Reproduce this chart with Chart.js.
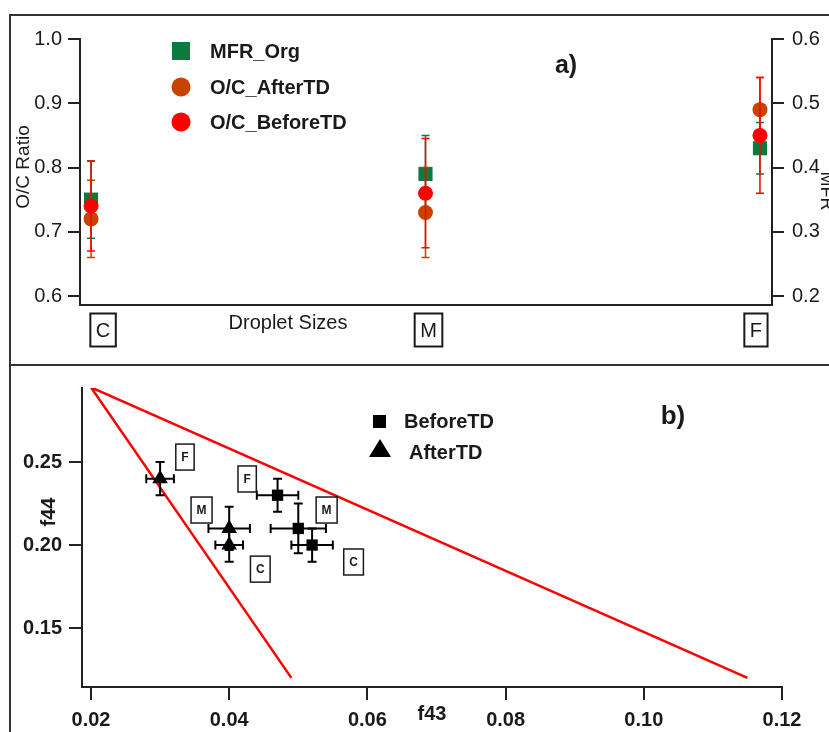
<!DOCTYPE html>
<html>
<head>
<meta charset="utf-8">
<script src="https://cdn.jsdelivr.net/npm/chart.js@4.4.1/dist/chart.umd.min.js"></script>
<style>
  html, body { margin: 0; padding: 0; background: #fff; }
  #page { position: relative; width: 829px; height: 732px; overflow: hidden; }
  .frame { position: absolute; background: #333; }
  canvas { position: absolute; left: 0; }
</style>
</head>
<body>
<div id="page">
  <div class="frame" style="left:9px;top:14px;width:820px;height:2px"></div>
  <div class="frame" style="left:9px;top:14px;width:2px;height:718px"></div>
  <div class="frame" style="left:9px;top:364px;width:820px;height:2px"></div>
  <canvas id="topChart" width="829" height="365" style="top:0"></canvas>
  <canvas id="bottomChart" width="829" height="367" style="top:365px"></canvas>
</div>
<script>
const FONT = "'Liberation Sans', Arial, sans-serif";

// panel a) O/C ratio and MFR per droplet size
const sizes = ["C", "M", "F"];
const sizePos = [0, 1, 2];
const mfrOrg = [0.35, 0.39, 0.43];
const mfrOrgErr = [0.06, 0.06, 0.04];
const ocAfterTD = [0.72, 0.73, 0.89];
const ocAfterTDErr = [0.06, 0.07, 0.05];
const ocBeforeTD = [0.74, 0.76, 0.85];
const ocBeforeTDErr = [0.07, 0.085, 0.09];
const sizeLabelShift = [0.036, 0.009, -0.012];
const ocTicks = [0.6, 0.7, 0.8, 0.9, 1.0];
const mfrTicks = [0.2, 0.3, 0.4, 0.5, 0.6];

// panel b) f44 vs f43 triangle plot (order C, M, F)
const f43Before = [0.052, 0.050, 0.047];
const f44Before = [0.200, 0.210, 0.230];
const f43BeforeErr = [0.003, 0.004, 0.003];
const f44BeforeErr = [0.010, 0.015, 0.010];
const f43After = [0.040, 0.040, 0.030];
const f44After = [0.200, 0.210, 0.240];
const f43AfterErr = [0.002, 0.003, 0.002];
const f44AfterErr = [0.010, 0.013, 0.010];
const triangleF43 = [0.049, 0.020, 0.115];
const triangleF44 = [0.120, 0.295, 0.120];
const boxLabels = ["F", "M", "C", "F", "M", "C"];
const boxF43 = [0.0336, 0.0360, 0.0445, 0.0426, 0.0541, 0.0580];
const boxF44 = [0.253, 0.2211, 0.1855, 0.2398, 0.2211, 0.1898];
const f43Ticks = [0.02, 0.04, 0.06, 0.08, 0.10, 0.12];
const f44Ticks = [0.15, 0.20, 0.25];

const GREEN = "#0b7a3f";
const ORANGE = "#c84200";
const RED = "#ff0000";
const INK = "#1a1a1a";

function points(xs, ys) {
  return xs.map((x, i) => ({ x, y: ys[i] }));
}

function text(ctx, s, x, y, font, align, rot) {
  ctx.save();
  ctx.font = font;
  ctx.fillStyle = INK;
  ctx.textAlign = align || "center";
  ctx.textBaseline = "middle";
  ctx.translate(x, y);
  if (rot) ctx.rotate(rot);
  ctx.fillText(s, 0, 0);
  ctx.restore();
}

function boxedText(ctx, s, cx, cy, font, h, lw) {
  ctx.save();
  ctx.font = font;
  const w = ctx.measureText(s).width + 11;
  ctx.strokeStyle = INK;
  ctx.lineWidth = lw;
  ctx.strokeRect(cx - w / 2, cy - h / 2, w, h);
  ctx.restore();
  text(ctx, s, cx, cy + 1, font);
}

// error bars drawn right after their own dataset
const errorBars = {
  id: "errorBars",
  afterDatasetDraw(chart, args) {
    const ds = chart.data.datasets[args.index];
    if (!ds.yErr && !ds.xErr) return;
    const xs = chart.scales[args.meta.xAxisID];
    const ys = chart.scales[args.meta.yAxisID];
    const ctx = chart.ctx;
    const cap = ds.capHalf || 4;
    ctx.save();
    ctx.strokeStyle = ds.errColor;
    ctx.lineWidth = ds.errWidth || 1.5;
    ds.data.forEach((p, i) => {
      const px = xs.getPixelForValue(p.x);
      const py = ys.getPixelForValue(p.y);
      ctx.beginPath();
      if (ds.yErr) {
        const y1 = ys.getPixelForValue(p.y - ds.yErr[i]);
        const y2 = ys.getPixelForValue(p.y + ds.yErr[i]);
        ctx.moveTo(px, y1); ctx.lineTo(px, y2);
        ctx.moveTo(px - cap, y1); ctx.lineTo(px + cap, y1);
        ctx.moveTo(px - cap, y2); ctx.lineTo(px + cap, y2);
      }
      if (ds.xErr) {
        const x1 = xs.getPixelForValue(p.x - ds.xErr[i]);
        const x2 = xs.getPixelForValue(p.x + ds.xErr[i]);
        ctx.moveTo(x1, py); ctx.lineTo(x2, py);
        ctx.moveTo(x1, py - cap); ctx.lineTo(x1, py + cap);
        ctx.moveTo(x2, py - cap); ctx.lineTo(x2, py + cap);
      }
      ctx.stroke();
    });
    ctx.restore();
  }
};

const panelA = {
  id: "panelA",
  afterDraw(chart) {
    const ctx = chart.ctx;
    const x = chart.scales.x;
    sizes.forEach((s, i) => {
      boxedText(ctx, s, x.getPixelForValue(sizePos[i] + sizeLabelShift[i]), 330, "20px " + FONT, 33, 2);
    });
    text(ctx, "Droplet Sizes", 288, 323, "20px " + FONT);
    text(ctx, "a)", 566, 66, "bold 25px " + FONT);
    text(ctx, "O/C Ratio", 24, 167, "19px " + FONT, "center", -Math.PI / 2);
    text(ctx, "MFR", 826, 191, "18px " + FONT, "center", Math.PI / 2);

    // legend
    chart.data.datasets.forEach((ds, i) => {
      const ly = [51, 87, 122][i];
      ctx.save();
      ctx.fillStyle = ds.backgroundColor;
      if (ds.pointStyle === "rect") {
        ctx.fillRect(172, ly - 9, 18, 18);
      } else {
        ctx.beginPath();
        ctx.arc(181, ly, 9.5, 0, Math.PI * 2);
        ctx.fill();
      }
      ctx.restore();
      text(ctx, ds.label, 210, ly + 1, "bold 20px " + FONT, "left");
    });
  }
};

const panelB = {
  id: "panelB",
  afterDraw(chart) {
    const ctx = chart.ctx;
    const x = chart.scales.x;
    const y = chart.scales.y;
    boxLabels.forEach((s, i) => {
      boxedText(ctx, s, x.getPixelForValue(boxF43[i]), y.getPixelForValue(boxF44[i]), "bold 12px " + FONT, 26, 1.5);
    });
    text(ctx, "b)", 673, 52, "bold 26px " + FONT);
    text(ctx, "f44", 49, 147, "bold 20px " + FONT, "center", -Math.PI / 2);

    ctx.save();
    ctx.fillStyle = "#000";
    ctx.fillRect(373, 50, 13, 13);
    ctx.beginPath();
    ctx.moveTo(380, 74);
    ctx.lineTo(391, 92);
    ctx.lineTo(369, 92);
    ctx.closePath();
    ctx.fill();
    ctx.restore();
    text(ctx, "BeforeTD", 404, 57, "bold 20px " + FONT, "left");
    text(ctx, "AfterTD", 409, 88, "bold 20px " + FONT, "left");
  }
};

function tickSetter(list) {
  return scale => { scale.ticks = list.map(v => ({ value: v })); };
}

const axisLine = { color: "#222", width: 2 };
const tickMarks = len => ({ drawOnChartArea: false, drawTicks: true, tickLength: len, color: "#222", lineWidth: 2 });

new Chart(document.getElementById("topChart"), {
  type: "scatter",
  data: {
    datasets: [
      {
        label: "MFR_Org",
        data: points(sizePos, mfrOrg),
        yAxisID: "y2",
        pointStyle: "rect",
        pointRadius: 10,
        backgroundColor: GREEN,
        borderWidth: 0,
        yErr: mfrOrgErr,
        errColor: GREEN,
        order: 3
      },
      {
        label: "O/C_AfterTD",
        data: points(sizePos, ocAfterTD),
        yAxisID: "y",
        pointStyle: "circle",
        pointRadius: 7.5,
        backgroundColor: ORANGE,
        borderWidth: 0,
        yErr: ocAfterTDErr,
        errColor: ORANGE,
        order: 2
      },
      {
        label: "O/C_BeforeTD",
        data: points(sizePos, ocBeforeTD),
        yAxisID: "y",
        pointStyle: "circle",
        pointRadius: 7.5,
        backgroundColor: RED,
        borderWidth: 0,
        yErr: ocBeforeTDErr,
        errColor: RED,
        order: 1
      }
    ]
  },
  options: {
    responsive: false,
    animation: false,
    events: [],
    layout: { padding: { left: 0, right: 0, top: 39, bottom: 60 } },
    plugins: { legend: { display: false }, tooltip: { enabled: false } },
    scales: {
      x: {
        type: "linear",
        min: -0.033,
        max: 2.036,
        ticks: { display: false },
        grid: { display: false },
        border: axisLine,
        afterFit: s => { s.height = 0; }
      },
      y: {
        position: "left",
        min: 0.586,
        max: 1.0,
        afterBuildTicks: tickSetter(ocTicks),
        ticks: { callback: v => v.toFixed(1), color: INK, padding: 6, font: { family: FONT, size: 20 } },
        grid: tickMarks(12),
        border: axisLine,
        afterFit: s => { s.width = 80; }
      },
      y2: {
        position: "right",
        min: 0.186,
        max: 0.6,
        afterBuildTicks: tickSetter(mfrTicks),
        ticks: { callback: v => v.toFixed(1), color: INK, padding: 8, font: { family: FONT, size: 20 } },
        grid: tickMarks(12),
        border: axisLine,
        afterFit: s => { s.width = 57; }
      }
    }
  },
  plugins: [errorBars, panelA]
});

new Chart(document.getElementById("bottomChart"), {
  type: "scatter",
  data: {
    datasets: [
      {
        label: "BeforeTD",
        data: points(f43Before, f44Before),
        pointStyle: "rect",
        pointRadius: 8,
        backgroundColor: "#000",
        borderWidth: 0,
        xErr: f43BeforeErr,
        yErr: f44BeforeErr,
        errColor: "#000",
        errWidth: 2,
        capHalf: 4.5,
        order: 1
      },
      {
        label: "AfterTD",
        data: points(f43After, f44After),
        pointStyle: "triangle",
        pointRadius: 9,
        backgroundColor: "#000",
        borderWidth: 0,
        xErr: f43AfterErr,
        yErr: f44AfterErr,
        errColor: "#000",
        errWidth: 2,
        capHalf: 4.5,
        order: 2
      },
      {
        label: "triangle",
        data: points(triangleF43, triangleF44),
        showLine: true,
        pointRadius: 0,
        borderColor: RED,
        borderWidth: 2.5,
        order: 3
      }
    ]
  },
  options: {
    responsive: false,
    animation: false,
    events: [],
    layout: { padding: { left: 0, right: 47, top: 23, bottom: 0 } },
    plugins: { legend: { display: false }, tooltip: { enabled: false } },
    scales: {
      x: {
        type: "linear",
        min: 0.0187,
        max: 0.12,
        afterBuildTicks: tickSetter(f43Ticks),
        ticks: { callback: v => v.toFixed(2), color: INK, padding: 8, maxRotation: 0, font: { family: FONT, size: 20, weight: "bold" } },
        grid: tickMarks(13),
        border: axisLine,
        title: { display: true, text: "f43", color: INK, padding: { bottom: 6 }, font: { family: FONT, size: 20, weight: "bold" } },
        afterFit: s => { s.height = 45; }
      },
      y: {
        position: "left",
        min: 0.1145,
        max: 0.2946,
        afterBuildTicks: tickSetter(f44Ticks),
        ticks: { callback: v => v.toFixed(2), color: INK, padding: 7, font: { family: FONT, size: 20, weight: "bold" } },
        grid: tickMarks(13),
        border: axisLine,
        afterFit: s => { s.width = 82; }
      }
    }
  },
  plugins: [errorBars, panelB]
});
</script>
</body>
</html>
